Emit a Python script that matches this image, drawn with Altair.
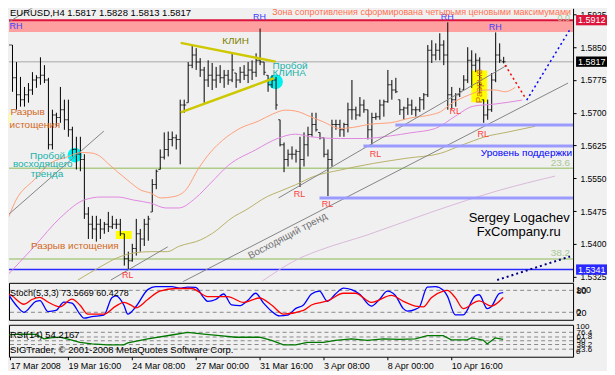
import altair as alt
import pandas as pd

# ---------------- price bars (EURUSD, H4) ----------------
bar_open = [1.5730, 1.5820, 1.5855, 1.5780, 1.5741, 1.5730, 1.5741, 1.5752, 1.5775, 1.5780,
            1.5786, 1.5775, 1.5627, 1.5695, 1.5689, 1.5707, 1.5684, 1.5661, 1.5616, 1.5605,
            1.5593, 1.5468, 1.5445, 1.5434, 1.5445, 1.5434, 1.5445, 1.5439, 1.5445, 1.5445,
            1.5423, 1.5366, 1.5361, 1.5389, 1.5423, 1.5411, 1.5445, 1.5473, 1.5536, 1.5570,
            1.5598, 1.5616, 1.5639, 1.5643, 1.5639, 1.5718, 1.5723, 1.5809, 1.5832, 1.5816,
            1.5798, 1.5775, 1.5786, 1.5775, 1.5786, 1.5780, 1.5786, 1.5775, 1.5791, 1.5775,
            1.5793, 1.5786, 1.5798, 1.5793, 1.5820, 1.5816, 1.5786, 1.5764, 1.5775, 1.5684,
            1.5627, 1.5593, 1.5605, 1.5605, 1.5611, 1.5593, 1.5627, 1.5650, 1.5673, 1.5655,
            1.5643, 1.5605, 1.5593, 1.5673, 1.5673, 1.5661, 1.5673, 1.5707, 1.5707, 1.5695,
            1.5718, 1.5707, 1.5661, 1.5689, 1.5691, 1.5718, 1.5725, 1.5764, 1.5752, 1.5730,
            1.5707, 1.5711, 1.5718, 1.5707, 1.5707, 1.5730, 1.5741, 1.5843, 1.5832, 1.5843,
            1.5855, 1.5832, 1.5741, 1.5730, 1.5741, 1.5752, 1.5775, 1.5820, 1.5809, 1.5820,
            1.5730, 1.5695, 1.5707, 1.5775, 1.5832, 1.5817]
bar_high = [1.5843, 1.5905, 1.5855, 1.5816, 1.5782, 1.5759, 1.5768, 1.5793, 1.5786, 1.5827,
            1.5809, 1.5780, 1.5707, 1.5700, 1.5759, 1.5730, 1.5730, 1.5668, 1.5645, 1.5645,
            1.5605, 1.5484, 1.5464, 1.5464, 1.5457, 1.5450, 1.5473, 1.5464, 1.5457, 1.5457,
            1.5423, 1.5382, 1.5400, 1.5457, 1.5434, 1.5457, 1.5464, 1.5548, 1.5570, 1.5616,
            1.5655, 1.5657, 1.5657, 1.5650, 1.5730, 1.5730, 1.5816, 1.5855, 1.5848, 1.5825,
            1.5805, 1.5820, 1.5814, 1.5805, 1.5809, 1.5798, 1.5798, 1.5836, 1.5791, 1.5805,
            1.5809, 1.5816, 1.5820, 1.5836, 1.5893, 1.5816, 1.5786, 1.5786, 1.5782, 1.5684,
            1.5632, 1.5616, 1.5623, 1.5616, 1.5645, 1.5655, 1.5668, 1.5700, 1.5700, 1.5655,
            1.5643, 1.5616, 1.5684, 1.5684, 1.5684, 1.5677, 1.5723, 1.5775, 1.5714, 1.5736,
            1.5730, 1.5707, 1.5700, 1.5700, 1.5730, 1.5730, 1.5798, 1.5775, 1.5780, 1.5730,
            1.5714, 1.5734, 1.5730, 1.5714, 1.5736, 1.5745, 1.5855, 1.5866, 1.5859, 1.5882,
            1.5866, 1.5907, 1.5759, 1.5745, 1.5757, 1.5786, 1.5850, 1.5843, 1.5836, 1.5827,
            1.5730, 1.5730, 1.5791, 1.5884, 1.5859, 1.5828]
bar_low = [1.5677, 1.5814, 1.5748, 1.5707, 1.5714, 1.5714, 1.5723, 1.5741, 1.5757, 1.5764,
           1.5768, 1.5616, 1.5616, 1.5668, 1.5677, 1.5661, 1.5645, 1.5600, 1.5570, 1.5566,
           1.5457, 1.5411, 1.5411, 1.5405, 1.5411, 1.5423, 1.5427, 1.5434, 1.5434, 1.5418,
           1.5350, 1.5341, 1.5359, 1.5373, 1.5382, 1.5395, 1.5407, 1.5473, 1.5525, 1.5570,
           1.5593, 1.5600, 1.5623, 1.5616, 1.5582, 1.5700, 1.5723, 1.5802, 1.5798, 1.5782,
           1.5723, 1.5759, 1.5752, 1.5757, 1.5768, 1.5757, 1.5764, 1.5770, 1.5757, 1.5768,
           1.5775, 1.5768, 1.5775, 1.5782, 1.5809, 1.5786, 1.5748, 1.5757, 1.5707, 1.5623,
           1.5564, 1.5577, 1.5593, 1.5586, 1.5530, 1.5577, 1.5600, 1.5645, 1.5657, 1.5639,
           1.5598, 1.5509, 1.5577, 1.5661, 1.5645, 1.5645, 1.5655, 1.5684, 1.5684, 1.5691,
           1.5700, 1.5639, 1.5627, 1.5684, 1.5684, 1.5691, 1.5723, 1.5730, 1.5745, 1.5695,
           1.5684, 1.5695, 1.5695, 1.5691, 1.5702, 1.5707, 1.5736, 1.5814, 1.5820, 1.5820,
           1.5809, 1.5707, 1.5707, 1.5714, 1.5736, 1.5752, 1.5768, 1.5757, 1.5793, 1.5745,
           1.5677, 1.5684, 1.5702, 1.5770, 1.5814, 1.5813]
bar_close = [1.5820, 1.5855, 1.5780, 1.5741, 1.5730, 1.5741, 1.5752, 1.5775, 1.5780, 1.5786,
             1.5775, 1.5627, 1.5695, 1.5689, 1.5707, 1.5684, 1.5661, 1.5616, 1.5605, 1.5593,
             1.5468, 1.5445, 1.5434, 1.5445, 1.5434, 1.5445, 1.5439, 1.5445, 1.5445, 1.5423,
             1.5366, 1.5361, 1.5389, 1.5423, 1.5411, 1.5445, 1.5457, 1.5536, 1.5566, 1.5598,
             1.5616, 1.5639, 1.5643, 1.5639, 1.5718, 1.5718, 1.5809, 1.5832, 1.5816, 1.5798,
             1.5775, 1.5786, 1.5775, 1.5786, 1.5780, 1.5786, 1.5775, 1.5798, 1.5775, 1.5793,
             1.5786, 1.5798, 1.5793, 1.5820, 1.5816, 1.5793, 1.5764, 1.5775, 1.5718, 1.5627,
             1.5593, 1.5605, 1.5605, 1.5611, 1.5593, 1.5627, 1.5650, 1.5673, 1.5661, 1.5643,
             1.5605, 1.5593, 1.5673, 1.5673, 1.5661, 1.5673, 1.5707, 1.5707, 1.5695, 1.5718,
             1.5707, 1.5661, 1.5689, 1.5691, 1.5718, 1.5725, 1.5764, 1.5752, 1.5748, 1.5707,
             1.5711, 1.5718, 1.5707, 1.5707, 1.5730, 1.5741, 1.5843, 1.5832, 1.5843, 1.5855,
             1.5832, 1.5741, 1.5730, 1.5741, 1.5748, 1.5775, 1.5820, 1.5809, 1.5820, 1.5764,
             1.5695, 1.5707, 1.5775, 1.5832, 1.5820, 1.5817]

date_tick_bars = [1.5, 16, 32, 48, 64, 80, 96, 112]
date_tick_labels = ["17 Mar 2008", "19 Mar 16:00", "24 Mar 08:00", "27 Mar 00:00",
                    "31 Mar 16:00", "3 Apr 08:00", "8 Apr 00:00", "10 Apr 16:00"]
price_ticks = [1.5325, 1.5400, 1.5475, 1.5550, 1.5625, 1.5700, 1.5775, 1.5850, 1.5925]

# ---------------- moving averages (bar, price) ----------------
ma_orange_bar = [0, 3, 7.5, 11.75, 15.9, 19.25, 21.75, 24.25, 25.9, 30.9, 34.25, 36.75, 39.25, 42.5,
                 45.5, 48.75, 51.75, 54.75, 59.25, 63.75, 67.25, 70.5, 73, 76.75, 80, 84.25, 88.4,
                 91.75, 96.75, 101.75, 106.75, 109.25, 112.2, 116.25, 120.5, 123, 125.5, 128]
ma_orange_val = [1.5432, 1.5500, 1.5546, 1.5585, 1.5599, 1.5609, 1.5608, 1.5599, 1.5585, 1.5546,
                 1.5523, 1.5516, 1.5505, 1.5508, 1.5523, 1.5573, 1.5610, 1.5637, 1.5665, 1.5681,
                 1.5697, 1.5706, 1.5704, 1.5691, 1.5679, 1.5664, 1.5668, 1.5674, 1.5677, 1.5688,
                 1.5695, 1.5702, 1.5722, 1.5740, 1.5752, 1.5752, 1.5748, 1.5758]
ma_violet_bar = [0.25, 7.5, 14.25, 20, 24.25, 28.5, 32.5, 36.75, 40.5, 43.75, 48, 51.75, 56.25, 63,
                 68.75, 73, 76.75, 84.25, 90, 96.75, 101.75, 108, 113, 117.5, 123, 129.75]
ma_violet_val = [1.5322, 1.5393, 1.5461, 1.5500, 1.5507, 1.5507, 1.5500, 1.5493, 1.5482, 1.5482,
                 1.5505, 1.5539, 1.5580, 1.5615, 1.5642, 1.5651, 1.5645, 1.5641, 1.5641, 1.5647,
                 1.5654, 1.5664, 1.5692, 1.5715, 1.5720, 1.5729]
ma_olive_bar = [18.5, 24.25, 28.4, 32.5, 36.75, 40.9, 43.75, 49.25, 52.2, 57.5, 60.5, 65.9, 68.75,
                73, 77.5, 84.25, 92.5, 100.9, 109.25, 114.7, 120.5, 126.25, 133]
ma_olive_val = [1.5317, 1.5348, 1.5368, 1.5379, 1.5382, 1.5382, 1.5394, 1.5409, 1.5424, 1.5462,
                1.5477, 1.5508, 1.5519, 1.5535, 1.5554, 1.5569, 1.5584, 1.5596, 1.5607, 1.5626,
                1.5645, 1.5656, 1.5669]
ma_thistle_bar = [64.75, 74.25, 79.25, 90.9, 107.5, 124.25, 138]
ma_thistle_val = [1.5315, 1.5368, 1.5386, 1.5420, 1.5474, 1.5523, 1.5555]

# ---------------- oscillators (bar, value) ----------------
stoch_k_bar = [0, 3, 5, 8, 9, 11, 13, 15, 17, 19, 20, 22, 25, 27, 28, 30, 31, 33, 36, 38, 42, 44,
               46, 48, 50, 51, 53, 55, 57, 59, 61, 63, 65, 67, 69, 71, 73, 75, 77, 79, 81, 83, 85,
               87, 89, 92, 94, 96, 98, 100, 101, 103, 104, 106, 108, 110, 111, 113, 115, 118, 119,
               121, 122, 124, 125]
stoch_k_val = [88, 40, 20, 50, 52, 22, 25, 48, 45, 15, 4, 8, 12, 60, 65, 40, 15, 35, 82, 90, 90, 86,
               89, 88, 60, 50, 55, 70, 40, 38, 52, 72, 45, 23, 10, 12, 30, 40, 70, 78, 50, 70, 86,
               82, 70, 37, 55, 78, 66, 30, 23, 28, 34, 89, 90, 80, 65, 13, 13, 65, 68, 30, 35, 71,
               73.5669]
stoch_d_bar = [0, 2, 5, 7, 9, 11, 14, 17, 19, 21, 25, 28, 30, 32, 33, 36, 39, 43, 47, 51, 56, 60,
               64, 67, 70, 75, 77, 81, 85, 88, 92, 97, 100, 103, 105, 107, 110, 111, 113, 115, 118,
               119, 122, 125]
stoch_d_val = [78, 65, 42, 55, 61, 48, 35, 56, 40, 15, 15, 37, 47, 38, 32, 55, 78, 85, 85, 63, 63, 47,
               59, 40, 15, 25, 40, 51, 72, 72, 47, 66, 50, 37, 35, 60, 78, 80, 60, 30, 48, 51, 37,
               60.4278]
stoch_levels = [80, 20]
rsi_bar = [0, 3, 5, 8, 10, 12, 14, 17, 19, 22, 26, 30, 31, 36, 42, 46, 50, 54, 58, 64, 67, 70, 73,
           76, 80, 83, 87, 91, 95, 99, 103, 106, 110, 112, 116, 117, 120, 121, 123, 125]
rsi_val = [68, 70, 71, 70, 56, 60, 61, 52, 45, 40, 37, 37, 43, 56, 68, 76, 71, 66, 61, 61, 51, 37, 37,
           45, 45, 51, 56, 51, 56, 54, 56, 66, 66, 53, 53, 59, 52, 40, 59, 54.2167]
rsi_levels = [76.4, 61.8, 50, 38.2, 23.6]

# ---------------- chart objects ----------------
zone_low, zone_high = [1.5885], [1.5912]
hline_price = [1.5573, 1.5365, 1.5817, 1.5912, 1.5341]
hline_color = ["#AECB8A", "#AECB8A", "#C0C0C0", "#DC143C", "#2828FF"]
hline_width = [1.5, 1.5, 1.5, 2, 1.5]

seg_b0 = [-0.75, 26.75, 44.75, 68.75, -0.25, 98, 90, 79, 44.25, 44.25]
seg_b1 = [25, 41, 141.25, 126, 8.5, 142.5, 142.5, 142.5, 68, 67.6]
seg_p0 = [1.5452, 1.5317, 1.5313, 1.5505, 1.5900, 1.5672, 1.5624, 1.5505, 1.5860, 1.5701]
seg_p1 = [1.5658, 1.5393, 1.5768, 1.5809, 1.5948, 1.5672, 1.5624, 1.5505, 1.5817, 1.5779]
seg_color = ["#858585"] * 5 + ["#9B9BFF"] * 3 + ["#CDC800"] * 2
seg_width = [1] * 5 + [3] * 3 + [2.5] * 2

dot_b0 = [125.5, 130.9, 123.5]
dot_b1 = [130.75, 141.75, 141.75]
dot_p0 = [1.5809, 1.5729, 1.5317]
dot_p1 = [1.5731, 1.5891, 1.5371]
dot_color = ["#FF0000", "#0000FF", "#000080"]
dot_width = [1.5, 1.5, 2]

box_b0 = [28, 117, 0]
box_b1 = [32, 121, 1.75]
box_p0 = [1.5411, 1.5724, 1.5676]
box_p1 = [1.5429, 1.5797, 1.5699]
box_color = ["#FFFF00", "#FFFF00", "#FFFF99"]

circle_bar = [68, 17.75]
circle_price = [1.5771, 1.5603]

price_tag_value = [1.5912, 1.5817, 1.5341]
price_tag_color = ["#DC143C", "#000000", "#2828FF"]

# annotations: text, bar, price, colour, font size, angle
notes_left = [
    ("EURUSD,H4  1.5817 1.5828 1.5813 1.5817", 1.5, 1.5929, "#000000", 9.5, 0),
    ("Пробой", 67.25, 1.5807, "#20B2AA", 10, 0),
    ("КЛИНА", 67.25, 1.5791, "#20B2AA", 10, 0),
    ("Разрыв истощения", 6.75, 1.5395, "#D2691E", 10, 0),
    ("Разрыв", 1.6, 1.5702, "#D2691E", 10, 0),
    ("истощения", 1.4, 1.5672, "#D2691E", 10, 0),
]
notes_center = [
    ("КЛИН", 58, 1.5864, "#808000", 10, 0),
    ("RH", 3, 1.5899, "#4040FF", 9, 0),
    ("RH", 64, 1.5920, "#4040FF", 9, 0),
    ("RH", 111, 1.5920, "#4040FF", 9, 0),
    ("RH", 123, 1.5896, "#4040FF", 9, 0),
    ("RL", 31, 1.5329, "#FF4040", 9, 0),
    ("RL", 74, 1.5514, "#FF4040", 9, 0),
    ("RL", 81, 1.5491, "#FF4040", 9, 0),
    ("RL", 93, 1.5605, "#FF4040", 9, 0),
    ("RL", 113, 1.5704, "#FF4040", 9, 0),
    ("RL", 120, 1.5651, "#FF4040", 9, 0),
    ("Пробой", 10.9, 1.5602, "#20B2AA", 10, 0),
    ("восходящего", 9.7, 1.5583, "#20B2AA", 10, 0),
    ("тренда", 10.75, 1.5560, "#20B2AA", 10, 0),
    ("Sergey Logachev", 129, 1.5458, "#000000", 13, 0),
    ("FxCompany.ru", 128.9, 1.5428, "#000000", 13, 0),
    ("Восходящий тренд", 71, 1.5418, "#707070", 10, 332),
    ("Разрыв", 119, 1.5761, "#D2691E", 10, 270),
]
notes_right = [
    ("Зона сопротивления сформирована четырьмя ценовыми максимумами", 142, 1.59315, "#FF7050", 9, 0),
    ("Уровень поддержки", 142.25, 1.5607, "#0000FF", 10, 0),
    ("0.0", 141.75, 1.5918, "#A8C890", 9, 0),
    ("23.6", 141.75, 1.5586, "#A8C890", 10, 0),
    ("38.2", 141.75, 1.5379, "#A8C890", 10, 0),
]
stoch_notes = [("Stoch(5,3,3) 73.5669 60.4278", 1.5, 74)]
rsi_notes = [("RSI(14) 54.2167", 1.5, 67), ("SIGTrader, © 2001-2008 MetaQuotes Software Corp.", 1.5, 21)]
stoch_extra_labels = [("100", 80), ("0", 20)]
rsi_extra_labels = [("100", 92), ("0", 14)]

FONT = "Liberation Sans"
XS = alt.Scale(domain=[1.25, 142.5], nice=False, zero=False)
YM = alt.Scale(domain=[1.531286, 1.593914], nice=False, zero=False)
YS = alt.Scale(domain=[-0.5, 100.5], nice=False, zero=False)
YR = alt.Scale(domain=[0, 100], nice=False, zero=False)

main_axis = alt.Axis(orient="right", values=price_ticks, format=".4f", labelFont=FONT,
                     labelFontSize=8.5, labelColor="black", tickColor="black", tickSize=3,
                     labelPadding=4, domainColor="black", grid=False, title=None,
                     labelOverlap=False)
stoch_axis = alt.Axis(orient="right", values=stoch_levels, labelFont=FONT, labelFontSize=9,
                      labelColor="black", ticks=False, domain=False, labelPadding=3, grid=False,
                      title=None, labelOverlap=False)
rsi_axis = alt.Axis(orient="right", values=rsi_levels, format=".1~f", labelFont=FONT,
                    labelFontSize=8, labelColor="black", ticks=False, domain=False, labelPadding=3,
                    grid=False, title=None, labelOverlap=False)
label_expr = " : ".join(f"datum.value == {b} ? '{l}'" for b, l in zip(date_tick_bars, date_tick_labels)) + " : ''"
time_axis = alt.Axis(orient="bottom", values=date_tick_bars, labelExpr=label_expr, labelAlign="left",
                     labelFont=FONT, labelFontSize=9, labelColor="black", tickColor="black",
                     tickSize=3, labelPadding=1.5, domain=False, grid=False, title=None,
                     labelOverlap=False, labelFlush=False)


def X(f, axis=None):
    return alt.X(f, type="quantitative", scale=XS, axis=axis)


def YMain(f):
    return alt.Y(f, type="quantitative", scale=YM, axis=main_axis)


def notes_df(rows):
    return pd.DataFrame(rows, columns=["t", "b", "p", "c", "s", "a"])


def text_layer(rows, align, clip=True):
    return alt.Chart(notes_df(rows)).mark_text(align=align, baseline="middle", font=FONT, clip=clip).encode(
        x=X("b"), y=YMain("p"), text="t:N", color=alt.Color("c:N", scale=None),
        size=alt.Size("s:Q", scale=None), angle=alt.Angle("a:Q", scale=None))


bars = pd.DataFrame({"i": list(range(len(bar_open))), "open": bar_open, "high": bar_high,
                     "low": bar_low, "close": bar_close})

zone = alt.Chart(pd.DataFrame({"p0": zone_low, "p1": zone_high})).mark_rect(
    color="#FFA0A0", clip=True).encode(y=YMain("p0"), y2=alt.Y2("p1"))
hlines = alt.Chart(pd.DataFrame({"p": hline_price, "c": hline_color, "w": hline_width})).mark_rule(
    clip=True).encode(y=YMain("p"), color=alt.Color("c:N", scale=None), size=alt.Size("w:Q", scale=None))
rects = alt.Chart(pd.DataFrame({"b0": box_b0, "b1": box_b1, "p0": box_p0, "p1": box_p1, "c": box_color})).mark_rect(
    clip=True).encode(x=X("b0"), x2=alt.X2("b1"), y=YMain("p0"), y2=alt.Y2("p1"),
                      color=alt.Color("c:N", scale=None))
circles = alt.Chart(pd.DataFrame({"b": circle_bar, "p": circle_price})).mark_circle(
    size=215, color="#00F0F0", opacity=1, clip=True).encode(x=X("b"), y=YMain("p"))

hl = alt.Chart(bars).mark_rule(color="black", strokeWidth=1, xOffset=0.5, clip=True).encode(
    x=X("i"), y=YMain("low"), y2=alt.Y2("high"))
op = alt.Chart(bars).mark_tick(orient="horizontal", size=2, thickness=1, color="black", xOffset=-0.5,
                               clip=True).encode(x=X("i"), y=YMain("open"))
cl = alt.Chart(bars).mark_tick(orient="horizontal", size=2, thickness=1, color="black", xOffset=1.5,
                               clip=True).encode(x=X("i"), y=YMain("close"))

ma_rows = []
for name, bs, vs, col in [("thistle", ma_thistle_bar, ma_thistle_val, "#D9B9D9"),
                          ("olive", ma_olive_bar, ma_olive_val, "#B8B268"),
                          ("violet", ma_violet_bar, ma_violet_val, "#E088E0"),
                          ("orange", ma_orange_bar, ma_orange_val, "#FFA07A")]:
    for b, v in zip(bs, vs):
        ma_rows.append({"name": name, "b": b, "p": v, "c": col})
mas = alt.Chart(pd.DataFrame(ma_rows)).mark_line(strokeWidth=1, interpolate="monotone", clip=True).encode(
    x=X("b"), y=YMain("p"), color=alt.Color("c:N", scale=None), detail="name:N")

segs = alt.Chart(pd.DataFrame({"b0": seg_b0, "b1": seg_b1, "p0": seg_p0, "p1": seg_p1,
                               "c": seg_color, "w": seg_width})).mark_rule(clip=True, strokeCap="butt").encode(
    x=X("b0"), x2=alt.X2("b1"), y=YMain("p0"), y2=alt.Y2("p1"),
    color=alt.Color("c:N", scale=None), size=alt.Size("w:Q", scale=None))
dots = alt.Chart(pd.DataFrame({"b0": dot_b0, "b1": dot_b1, "p0": dot_p0, "p1": dot_p1,
                               "c": dot_color, "w": dot_width})).mark_rule(
    clip=True, strokeDash=[2, 3], strokeCap="butt").encode(
    x=X("b0"), x2=alt.X2("b1"), y=YMain("p0"), y2=alt.Y2("p1"),
    color=alt.Color("c:N", scale=None), size=alt.Size("w:Q", scale=None))

tags = pd.DataFrame({"v": price_tag_value, "c": price_tag_color,
                     "b0": [143.25] * 3, "b1": [151.0] * 3, "bm": [147.2] * 3})
tags["lo"] = tags["v"] - 0.00118
tags["hi"] = tags["v"] + 0.00118
tags["t"] = tags["v"].map(lambda v: f"{v:.4f}")
tag_box = alt.Chart(tags).mark_rect(clip=False).encode(
    x=X("b0"), x2=alt.X2("b1"), y=YMain("lo"), y2=alt.Y2("hi"), color=alt.Color("c:N", scale=None))
tag_txt = alt.Chart(tags).mark_text(clip=False, color="white", font=FONT, fontSize=9,
                                    align="center", baseline="middle").encode(
    x=X("bm"), y=YMain("v"), text="t:N")

main = alt.layer(zone, hlines, rects, circles, hl, op, cl, mas, segs, dots,
                 text_layer(notes_left, "left"), text_layer(notes_center, "center"),
                 text_layer(notes_right, "right"), tag_box, tag_txt).properties(width=565, height=274)

# ---- stochastic panel ----
def YSt(f):
    return alt.Y(f, type="quantitative", scale=YS, axis=stoch_axis)


st_rows = [{"s": "K", "b": b, "v": v, "c": "#0000FF"} for b, v in zip(stoch_k_bar, stoch_k_val)] + \
          [{"s": "D", "b": b, "v": v, "c": "#FF0000"} for b, v in zip(stoch_d_bar, stoch_d_val)]
st_lvl = alt.Chart(pd.DataFrame({"v": stoch_levels})).mark_rule(
    color="#8A8A8A", strokeDash=[4, 3], strokeWidth=1).encode(y=YSt("v"))
st_lines = alt.Chart(pd.DataFrame(st_rows)).mark_line(strokeWidth=1.3, interpolate="monotone", clip=True).encode(
    x=X("b"), y=YSt("v"), color=alt.Color("c:N", scale=None), detail="s:N")
st_txt = alt.Chart(pd.DataFrame(stoch_notes, columns=["t", "b", "v"])).mark_text(
    align="left", baseline="middle", font=FONT, fontSize=9, color="black", clip=True).encode(
    x=X("b"), y=YSt("v"), text="t:N")
st_extra = alt.Chart(pd.DataFrame(stoch_extra_labels, columns=["t", "v"]).assign(b=143.25)).mark_text(
    align="left", baseline="middle", font=FONT, fontSize=9, color="black", clip=False).encode(
    x=X("b"), y=YSt("v"), text="t:N")
stoch = alt.layer(st_lvl, st_lines, st_txt, st_extra).properties(
    width=565, height=37, view=alt.ViewBackground(stroke="black", strokeWidth=1))

# ---- RSI panel ----
def YRs(f):
    return alt.Y(f, type="quantitative", scale=YR, axis=rsi_axis)


rs_lvl = alt.Chart(pd.DataFrame({"v": rsi_levels})).mark_rule(
    color="#8A8A8A", strokeDash=[4, 3], strokeWidth=1).encode(y=YRs("v"))
rs_line = alt.Chart(pd.DataFrame({"b": rsi_bar, "v": rsi_val})).mark_line(
    strokeWidth=1.3, color="#007800", clip=True).encode(x=X("b", time_axis), y=YRs("v"))
rs_txt = alt.Chart(pd.DataFrame(rsi_notes, columns=["t", "b", "v"])).mark_text(
    align="left", baseline="middle", font=FONT, fontSize=9.5, color="black", clip=True).encode(
    x=X("b", time_axis), y=YRs("v"), text="t:N")
rs_extra = alt.Chart(pd.DataFrame(rsi_extra_labels, columns=["t", "v"]).assign(b=143.25)).mark_text(
    align="left", baseline="middle", font=FONT, fontSize=8, color="black", clip=False).encode(
    x=X("b", time_axis), y=YRs("v"), text="t:N")
rsi = alt.layer(rs_lvl, rs_line, rs_txt, rs_extra).properties(
    width=565, height=32, view=alt.ViewBackground(stroke="black", strokeWidth=1))

chart = alt.vconcat(main, alt.vconcat(stoch, rsi, spacing=2), spacing=0).properties(
    padding=0, background="#F0F0F0"
).configure_view(strokeWidth=0).configure_axis(grid=False)

chart.save("out.html", embed_options={"renderer": "svg", "actions": False})
